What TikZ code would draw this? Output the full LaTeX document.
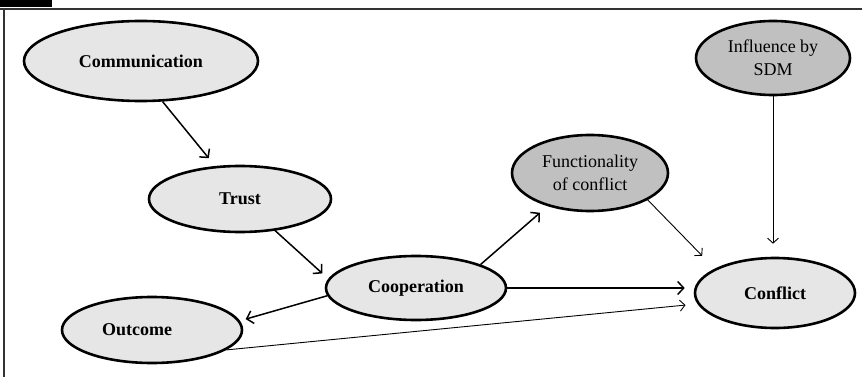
\documentclass[tikz,border=0pt]{standalone}
\usepackage{fontspec}
\setmainfont{Liberation Serif}
\usetikzlibrary{shapes.geometric,arrows.meta}
\definecolor{lightfill}{HTML}{E6E6E6}
\definecolor{darkfill}{HTML}{C0C0C0}
\definecolor{framegray}{HTML}{333333}

\begin{document}
\begin{tikzpicture}[x=1pt,y=-1pt,
	factor/.style={ellipse, draw=black, line width=2.6pt, inner sep=0pt, font=\fontsize{18}{23}\selectfont},
	mainf/.style={factor, fill=lightfill, font=\fontsize{18}{23}\selectfont\bfseries},
	sidef/.style={factor, fill=darkfill, align=center},
	link/.style={line width=1.5pt, -{Straight Barb[length=6pt,width=13pt,line width=1.5pt]}},
	thinlink/.style={line width=0.9pt, -{Straight Barb[length=5pt,width=11pt,line width=0.9pt]}}]% {{{ conflict model
	\useasboundingbox (0,0) rectangle (862,377);
	% frame
	\fill[black] (0,0) rectangle (52,7.5);
	\draw[framegray, line width=2.5pt] (0,9) -- (862,9);
	\draw[framegray, line width=2.2pt] (4,9) -- (4,377);

	\node[mainf, minimum width=234pt, minimum height=80pt] (comm) at (141,61) {Communication};
	\node[mainf, minimum width=182pt, minimum height=66pt] (trust) at (240,199) {Trust};
	\node[mainf, minimum width=180pt, minimum height=64pt] (coop) at (416,288) {Cooperation};
	\node[mainf, minimum width=180pt, minimum height=66pt, label={[xshift=-15pt, font=\fontsize{18}{23}\selectfont\bfseries]center:Outcome}] (outc) at (152,330) {};
	\node[mainf, minimum width=160pt, minimum height=70pt] (confl) at (775,293) {Conflict};
	\node[sidef, minimum width=156pt, minimum height=76pt] (func) at (590,173) {Functionality\\of conflict};
	\node[sidef, minimum width=154pt, minimum height=74pt] (infl) at (773,58) {Influence by\\SDM};

	\draw[link, shorten >=10pt] (comm.-62) -- (trust.127);
	\draw[link, shorten >=8pt] (trust.-42) -- (coop.174);
	\draw[link, shorten >=6pt] (coop.185) -- (outc.6);
	\draw[link, shorten >=10pt] (coop.20) -- (func.218);
	\draw[link, line width=1.8pt, shorten >=9pt] (coop.east) -- (coop.east -| confl.west);
	\draw[thinlink, shorten >=12pt] (outc.-15) -- (confl.188);
	\draw[thinlink, shorten >=18pt] (func.-25) -- (confl.158);
	\draw[thinlink, shorten >=13pt] (infl.south) -- (infl.south |- confl.north);
\end{tikzpicture}
\end{document}
